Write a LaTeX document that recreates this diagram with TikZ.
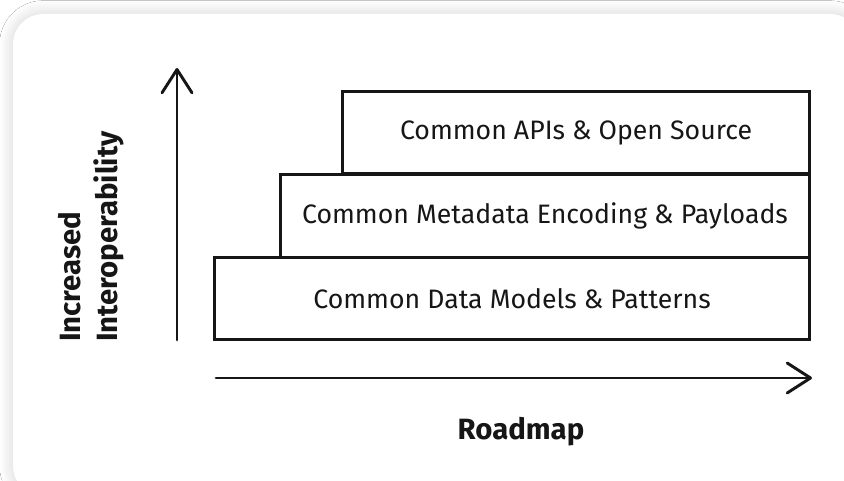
\documentclass[tikz,border=0pt]{standalone}
\usepackage{fontspec}
\setmainfont{Fira Sans}
\usetikzlibrary{arrows.meta,shadows.blur}
\definecolor{ink}{HTML}{161616}
\tikzset{
  px/.style={x=0.75pt,y=-0.75pt},
  card/.style={fill=white,rounded corners=22.5pt,
    blur shadow={shadow xshift=0pt,shadow yshift=0pt,shadow blur radius=10pt,shadow opacity=18,shadow blur steps=20}},
  layer/.style={draw=ink,line width=2.2pt,fill=white,anchor=north east,inner sep=0pt,
    font=\fontsize{20}{24}\selectfont,text=ink},
  axis/.style={draw=ink,line width=2.2pt,line cap=round,
    -{Straight Barb[length=17.5pt,width=22.5pt,line width=2.2pt,round]}},
  axislabel/.style={font=\bfseries\fontsize{22}{28}\selectfont,text=ink},
}
\begin{document}
\begin{tikzpicture}[px]
\useasboundingbox (0,0) rectangle (844,481);
\clip (0,0) rectangle (844,481);
\fill[white] (0,0) rectangle (844,481);
% card
\path[card] (13,14) rectangle (860,496);
% stacked layers, bottom to top
\node[layer,minimum width=446.25pt,minimum height=61.5pt] (base) at (811,256) {Common Data Models \& Patterns};
\node[layer,minimum width=396.75pt,minimum height=62.25pt] (meta) at (811,173) {Common Metadata Encoding \& Payloads};
\node[layer,minimum width=350.25pt,minimum height=61.5pt] (apis) at (811,90.5) {Common APIs \& Open Source};
% axes
\coordinate (ybot) at (177,340);
\coordinate (ytop) at (177,68);
\coordinate (xleft) at (216,378);
\coordinate (xright) at (812,378);
\draw[axis] (ybot) -- (ytop);
\draw[axis] (xleft) -- (xright);
% axis labels
\node[axislabel,rotate=90,anchor=north west,align=left,inner sep=0pt] (ylab) at (58,342) {Increased\\Interoperability};
\node[axislabel] (xlab) at (521,432) {Roadmap};
\end{tikzpicture}
\end{document}
